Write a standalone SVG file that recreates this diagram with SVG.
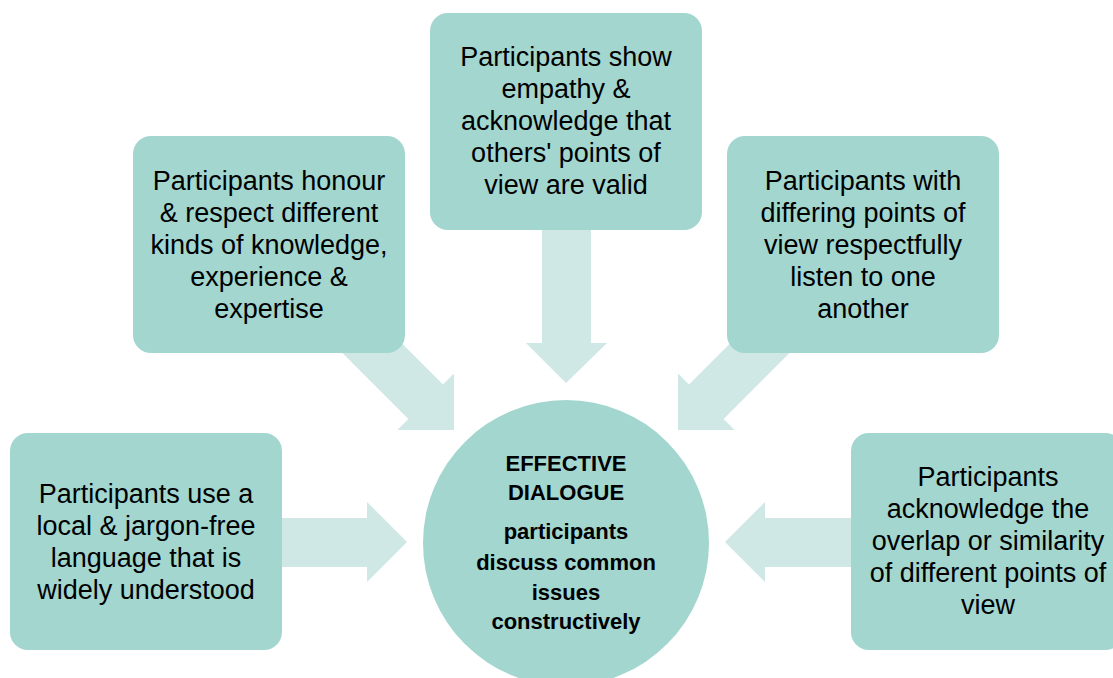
<svg xmlns="http://www.w3.org/2000/svg" width="1113" height="678" viewBox="0 0 1113 678">
<style>
.box{fill:#A2D6CF}
.arr{fill:#CFE8E5}
.t{font-family:"Liberation Sans",Arial,sans-serif;font-size:27px;fill:#000;text-anchor:middle}
.b{font-family:"Liberation Sans",Arial,sans-serif;font-size:22px;font-weight:bold;fill:#000;text-anchor:middle}
</style>
<rect width="1113" height="678" fill="#fff"/>
<g id="connectors">
<polygon class="arr" points="542,200 591,200 591,343 607,343 566,383 526,343 542,343"/>
<polygon class="arr" points="454,430 397.4,430 408.4,419 337.7,348.3 372.3,313.7 443,384.4 454,373.4"/>
<polygon class="arr" points="678,430 734.6,430 723.6,419 794.3,348.3 759.7,313.7 689,384.4 678,373.4"/>
<polygon class="arr" points="260,518 367,518 367,502 407,542 367,582 367,567 260,567"/>
<polygon class="arr" points="870,518 765,518 765,502 725,542 765,582 765,567 870,567"/>
</g>
<g id="node-top">
<rect class="box" x="430" y="13" width="272" height="217" rx="18"/>
<text class="t" x="566" y="66">Participants show</text>
<text class="t" x="566" y="98">empathy &amp;</text>
<text class="t" x="566" y="130">acknowledge that</text>
<text class="t" x="566" y="162">others' points of</text>
<text class="t" x="566" y="194">view are valid</text>
</g>
<g id="node-topleft">
<rect class="box" x="133" y="136" width="272" height="217" rx="18"/>
<text class="t" x="269" y="190">Participants honour</text>
<text class="t" x="269" y="222">&amp; respect different</text>
<text class="t" x="269" y="254">kinds of knowledge,</text>
<text class="t" x="269" y="286">experience &amp;</text>
<text class="t" x="269" y="318">expertise</text>
</g>
<g id="node-topright">
<rect class="box" x="727" y="136" width="272" height="217" rx="18"/>
<text class="t" x="863" y="190">Participants with</text>
<text class="t" x="863" y="222">differing points of</text>
<text class="t" x="863" y="254">view respectfully</text>
<text class="t" x="863" y="286">listen to one</text>
<text class="t" x="863" y="318">another</text>
</g>
<g id="node-left">
<rect class="box" x="10" y="433" width="272" height="217" rx="18"/>
<text class="t" x="146" y="503">Participants use a</text>
<text class="t" x="146" y="535">local &amp; jargon-free</text>
<text class="t" x="146" y="567">language that is</text>
<text class="t" x="146" y="599">widely understood</text>
</g>
<g id="node-right">
<rect class="box" x="851" y="433" width="272" height="217" rx="18"/>
<text class="t" x="988" y="486">Participants</text>
<text class="t" x="988" y="518">acknowledge the</text>
<text class="t" x="988" y="550">overlap or similarity</text>
<text class="t" x="988" y="582">of different points of</text>
<text class="t" x="988" y="614">view</text>
</g>
<g id="node-center">
<circle class="box" cx="566" cy="543" r="143"/>
<text class="b" x="566" y="471">EFFECTIVE</text>
<text class="b" x="566" y="500">DIALOGUE</text>
<text class="b" x="566" y="539">participants</text>
<text class="b" x="566" y="570">discuss common</text>
<text class="b" x="566" y="600">issues</text>
<text class="b" x="566" y="629">constructively</text>
</g>
</svg>
